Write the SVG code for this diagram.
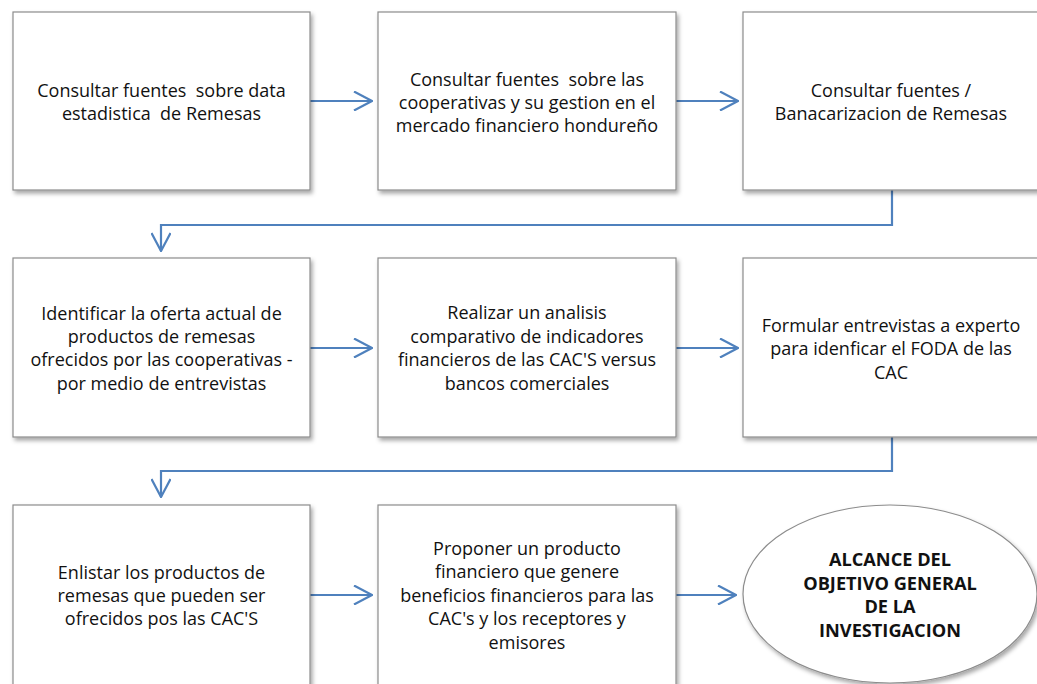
<svg xmlns="http://www.w3.org/2000/svg" width="1037" height="684" viewBox="0 0 1037 684">
<defs>
<filter id="sh" x="-10%" y="-10%" width="130%" height="130%">
<feDropShadow dx="2" dy="3" stdDeviation="2" flood-color="#000" flood-opacity="0.35"/>
</filter>
<marker id="ah" viewBox="0 0 20 20" refX="19" refY="10" markerWidth="20" markerHeight="20" markerUnits="userSpaceOnUse" orient="auto">
<path d="M1,0.5 L19,10 L1,19.5" fill="none" stroke="#4F81BD" stroke-width="2.2"/>
</marker>
</defs>
<style>
.box{fill:#fff;stroke:#8c8c8c;stroke-width:1.2;filter:url(#sh)}
.t{font-family:"Open Sans","Noto Sans",sans-serif;font-size:18px;fill:#111;text-anchor:middle;white-space:pre}
.b{font-family:"Open Sans","Noto Sans",sans-serif;font-size:18.2px;font-weight:bold;fill:#111;text-anchor:middle}
.c{fill:none;stroke:#4F81BD;stroke-width:2.2;marker-end:url(#ah)}
</style>
<rect width="1037" height="684" fill="#fff"/>
<g id="connectors">
<path class="c" d="M310,101 H372"/>
<path class="c" d="M676,101 H738"/>
<path class="c" d="M892,190 V225 H161 V251"/>
<path class="c" d="M310,348 H372"/>
<path class="c" d="M676,348 H738"/>
<path class="c" d="M892,437 V471 H161 V497"/>
<path class="c" d="M310,595 H372"/>
<path class="c" d="M676,595 H736"/>
</g>
<g id="n1"><rect class="box" x="13" y="12" width="297" height="178"/>
<text class="t" xml:space="preserve"><tspan x="161.5" y="96.5">Consultar fuentes  sobre data</tspan><tspan x="161.5" y="119.5">estadistica  de Remesas</tspan></text></g>
<g id="n2"><rect class="box" x="378" y="12" width="298" height="178"/>
<text class="t" xml:space="preserve"><tspan x="527" y="86">Consultar fuentes  sobre las</tspan><tspan x="527" y="109">cooperativas y su gestion en el</tspan><tspan x="527" y="132">mercado financiero hondureño</tspan></text></g>
<g id="n3"><rect class="box" x="743" y="12" width="297" height="178"/>
<text class="t"><tspan x="891" y="96.5">Consultar fuentes /</tspan><tspan x="891" y="119.5">Banacarizacion de Remesas</tspan></text></g>
<g id="n4"><rect class="box" x="13" y="258" width="297" height="179"/>
<text class="t"><tspan x="161.5" y="319.5">Identificar la oferta actual de</tspan><tspan x="161.5" y="342.5">productos de remesas</tspan><tspan x="161.5" y="366">ofrecidos por las cooperativas -</tspan><tspan x="161.5" y="389.5">por medio de entrevistas</tspan></text></g>
<g id="n5"><rect class="box" x="378" y="258" width="298" height="179"/>
<text class="t"><tspan x="527" y="319">Realizar un analisis</tspan><tspan x="527" y="342.5">comparativo de indicadores</tspan><tspan x="527" y="366">financieros de las CAC'S versus</tspan><tspan x="527" y="389.5">bancos comerciales</tspan></text></g>
<g id="n6"><rect class="box" x="743" y="258" width="297" height="179"/>
<text class="t"><tspan x="891" y="331.5">Formular entrevistas a experto</tspan><tspan x="891" y="355">para idenficar el FODA de las</tspan><tspan x="891" y="378.5">CAC</tspan></text></g>
<g id="n7"><rect class="box" x="13" y="505" width="297" height="190"/>
<text class="t"><tspan x="161.5" y="578.5">Enlistar los productos de</tspan><tspan x="161.5" y="601.5">remesas que pueden ser</tspan><tspan x="161.5" y="624.5">ofrecidos pos las CAC'S</tspan></text></g>
<g id="n8"><rect class="box" x="378" y="505" width="298" height="190"/>
<text class="t"><tspan x="527" y="554.5">Proponer un producto</tspan><tspan x="527" y="578">financiero que genere</tspan><tspan x="527" y="601.5">beneficios financieros para las</tspan><tspan x="527" y="625">CAC's y los receptores y</tspan><tspan x="527" y="648.5">emisores</tspan></text></g>
<g id="n9"><ellipse class="box" cx="890" cy="594" rx="147" ry="89"/>
<text class="b"><tspan x="890" y="566">ALCANCE DEL</tspan><tspan x="890" y="589.5">OBJETIVO GENERAL</tspan><tspan x="890" y="613">DE LA</tspan><tspan x="890" y="636.5">INVESTIGACION</tspan></text></g>
</svg>
